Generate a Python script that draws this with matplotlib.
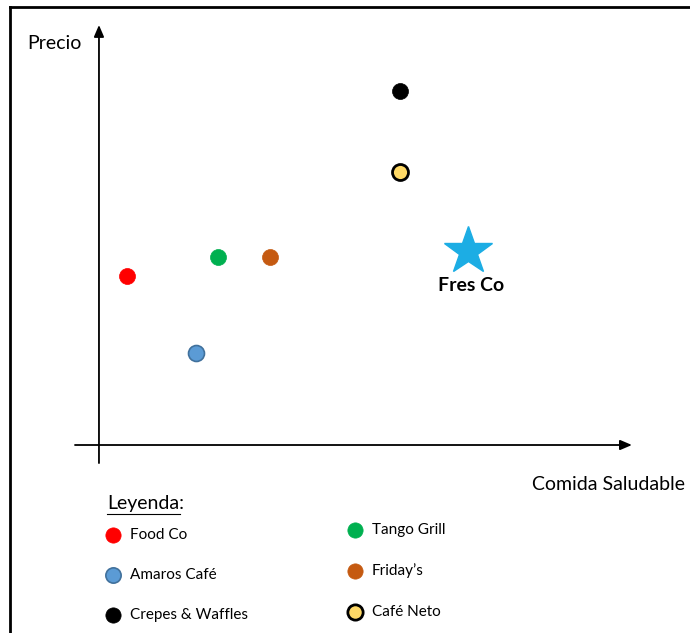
import matplotlib.pyplot as plt
from matplotlib.lines import Line2D

# Data (Comida Saludable on x, Precio on y, arbitrary 0-10 scale)
names = ['Food Co', 'Amaros Café', 'Crepes & Waffles', 'Tango Grill', "Friday’s", 'Café Neto']
saludable = [0.53, 1.82, 5.65, 2.23, 3.21, 5.65]
precio = [4.02, 2.19, 8.43, 4.48, 4.48, 6.50]
fill_colors = ['#FF0000', '#5B9BD5', '#000000', '#00B050', '#C55A11', '#FFD966']
edge_colors = ['#FF0000', '#41719C', '#000000', '#00B050', '#C55A11', '#000000']
edge_widths = [0.5, 1.2, 0.5, 0.5, 0.5, 2.0]

star_name = 'Fres Co'
star_saludable = 6.92
star_precio = 4.62

plt.rcParams['font.family'] = ['Lato', 'DejaVu Sans']

fig = plt.figure(figsize=(6.9, 6.33), dpi=100)
ax = fig.add_axes([0, 0, 1, 1])
ax.set_xlim(-1.857, 11.09)
ax.set_ylim(-4.476, 10.595)
ax.axis('off')

# axes with arrows
arrow = dict(arrowstyle='-|>,head_length=0.7,head_width=0.3', color='black', lw=1.3,
             shrinkA=0, shrinkB=0)
ax.annotate('', xy=(10.0, 0), xytext=(-0.45, 0), arrowprops=arrow)
ax.annotate('', xy=(0, 10.0), xytext=(0, -0.43), arrowprops=arrow)
ax.text(-0.83, 9.55, 'Precio', fontsize=14, ha='center', va='center')
ax.text(9.57, -0.93, 'Comida Saludable', fontsize=14, ha='center', va='center')

# points
for x, y, fc, ec, lw in zip(saludable, precio, fill_colors, edge_colors, edge_widths):
    ax.plot(x, y, 'o', ms=11.5, mfc=fc, mec=ec, mew=lw, zorder=3)

ax.plot(star_saludable, star_precio, '*', ms=36, color='#1CADE4', mec='#1CADE4', zorder=3)
ax.text(star_saludable + 0.06, star_precio - 0.83, star_name, fontsize=14,
        fontweight='bold', ha='center', va='center')

# legend, drawn by hand in figure pixel space
def px(x, y):
    return x / 690, 1 - y / 633

fig.text(*px(107, 503), 'Leyenda:', fontsize=14, ha='left', va='center')
fig.add_artist(Line2D([107 / 690, 180 / 690], [1 - 514 / 633] * 2, color='black', lw=0.8))

legend_pos = [(113, 535), (113, 575), (113, 615), (355, 530), (355, 571), (355, 612)]
for (lx, ly), name, fc, ec, lw in zip(legend_pos, names, fill_colors, edge_colors, edge_widths):
    fig.add_artist(Line2D([lx / 690], [1 - ly / 633], marker='o', ms=11, mfc=fc, mec=ec,
                          mew=lw, linestyle='none'))
    fig.text(*px(lx + 17, ly), name, fontsize=11, ha='left', va='center')

# frame lines at top and left edge
fig.add_artist(Line2D([10 / 690, 10 / 690], [0, 1 - 7 / 633], color='black', lw=2))
fig.add_artist(Line2D([10 / 690, 1], [1 - 7 / 633, 1 - 7 / 633], color='black', lw=2))

fig.savefig('out.png', dpi=100)
